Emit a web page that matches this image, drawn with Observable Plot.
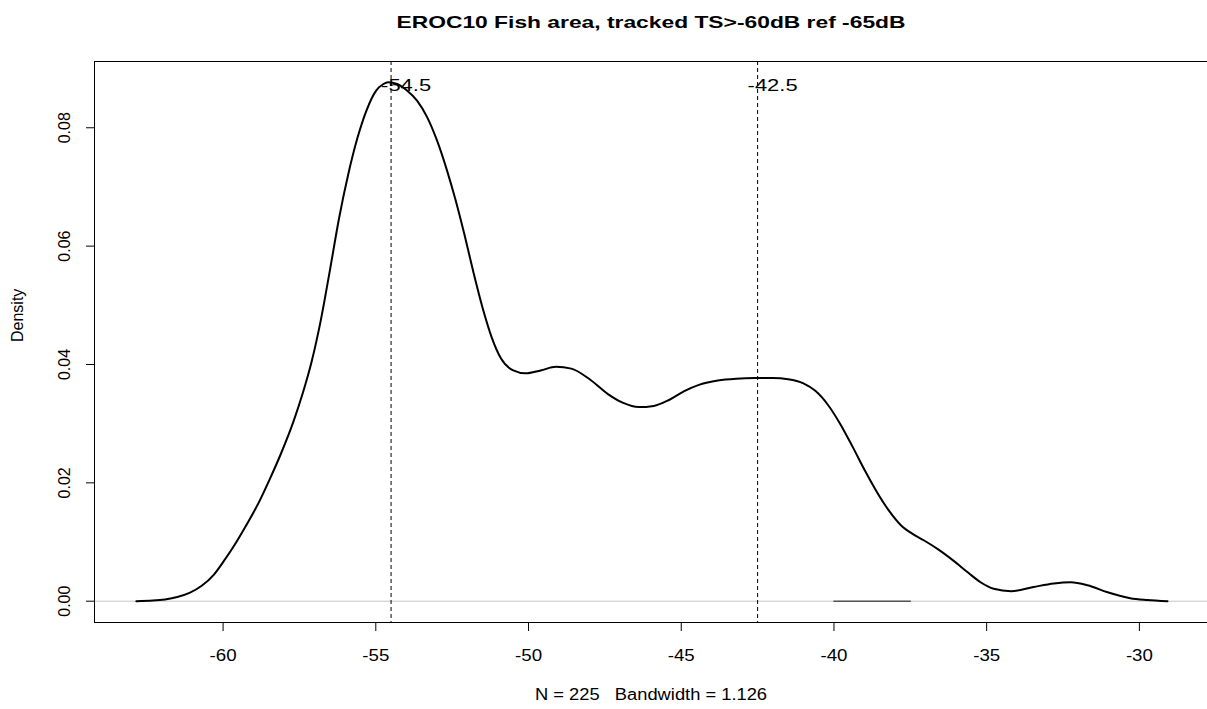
<!DOCTYPE html>
<html><head><meta charset="utf-8">
<script src="https://cdn.jsdelivr.net/npm/d3@7"></script>
<script src="https://cdn.jsdelivr.net/npm/@observablehq/plot@0.6"></script>
<style>
body{margin:0;background:#fff}
svg{display:block}
text{white-space:pre}
</style>
</head><body><div id="chart"></div>
<script>
const titleText = "EROC10 Fish area, tracked TS>-60dB ref -65dB";
const captionText = "N = 225   Bandwidth = 1.126";
const yLabelText = "Density";
const xTicks = [-60, -55, -50, -45, -40, -35, -30];
const yTicks = [0, 0.02, 0.04, 0.06, 0.08];
const modes = [-54.5, -42.5];
const modeLabels = ["-54.5", "-42.5"];
const segX = [-40, -37.5];
const segY = [0, 0];
const ts = [-62.84,-62.3,-61.9,-61.5,-61.1,-60.7,-60.3,-60.0,-59.6,-59.2,-58.8,-58.5,-58.1,-57.7,-57.4,-57.1,-56.8,-56.5,-56.2,-55.9,-55.6,-55.3,-55.0,-54.75,-54.6,-54.3,-53.98,-53.65,-53.32,-53.0,-52.67,-52.4,-52.1,-51.8,-51.5,-51.2,-50.9,-50.5,-50.1,-49.6,-49.1,-48.6,-48.0,-47.4,-46.9,-46.4,-45.9,-45.4,-44.9,-44.4,-43.8,-43.2,-42.6,-42.0,-41.5,-41.0,-40.6,-40.2,-39.8,-39.4,-39.0,-38.6,-38.2,-37.8,-37.4,-37.06,-36.6,-36.1,-35.6,-35.2,-34.77,-34.2,-33.47,-32.8,-32.25,-31.7,-31.04,-30.3,-29.75,-29.08];
const density = [0.0000,0.0001,0.0003,0.0007,0.0014,0.0026,0.0045,0.0066,0.0097,0.0132,0.0170,0.0203,0.0250,0.0303,0.0350,0.0405,0.0475,0.0560,0.0648,0.0722,0.0783,0.0830,0.0862,0.0874,0.0877,0.0874,0.0863,0.0846,0.0818,0.0779,0.0728,0.0680,0.0620,0.0555,0.0495,0.0445,0.0410,0.0390,0.0385,0.0390,0.0396,0.0393,0.0375,0.0350,0.0335,0.0328,0.0330,0.0340,0.0355,0.0366,0.0373,0.0376,0.0377,0.0377,0.0375,0.0368,0.0355,0.0332,0.0300,0.0262,0.0222,0.0185,0.0153,0.0128,0.0113,0.0103,0.0088,0.0069,0.0048,0.0032,0.0021,0.0017,0.0024,0.0030,0.0032,0.0027,0.0015,0.0005,0.0002,0.0000];

const curveData = ts.map((x, i) => ({x, y: density[i]}));
const segData = segX.map((x, i) => ({x, y: segY[i]}));
const modeData = modes.map((x, i) => ({x, label: modeLabels[i]}));
const xDomain = [-64.21, -27.77];
const yDomain = [-0.0036, 0.0912];
const font = "'Liberation Sans', Arial, sans-serif";

const chart = Plot.plot({
  width: 1207, height: 709,
  marginLeft: 94, marginRight: 0, marginTop: 61, marginBottom: 87,
  x: {domain: xDomain},
  y: {domain: yDomain},
  style: {fontFamily: font, fontSize: "16px", color: "#000", background: "#fff"},
  marks: [
    Plot.ruleY([0], {stroke: "#c4c4c4", strokeWidth: 1}),
    Plot.line(segData, {x: "x", y: "y", stroke: "#555", strokeWidth: 1.5}),
    Plot.ruleX(modes, {stroke: "#000", strokeWidth: 1, strokeDasharray: "4,3"}),
    Plot.line(curveData, {x: "x", y: "y", stroke: "#000", strokeWidth: 2, curve: "monotone-x"}),
    Plot.text(modeData, {x: "x", y: 0.0871, text: "label", dx: 15, fontSize: 16, fill: "#000"}),
    Plot.ruleX([xDomain[0]], {stroke: "#000", strokeWidth: 1}),
    Plot.ruleY([yDomain[0], yDomain[1]], {stroke: "#000", strokeWidth: 1}),
    Plot.axisX(xTicks, {tickSize: 9, tickPadding: 18, fontSize: 16, label: null, tickFormat: d => String(d)}),
    Plot.axisY(yTicks, {tickSize: 8, tickPadding: 17, tickRotate: -90, fontSize: 16, label: null, tickFormat: d3.format(".2f")}),
    Plot.text([titleText], {frameAnchor: "top", dy: -39, lineAnchor: "middle", fontWeight: "bold", fontSize: 17, fill: "#000"}),
    Plot.text([yLabelText], {frameAnchor: "left", dx: -77, rotate: -90, lineAnchor: "middle", fontSize: 16, fill: "#000"}),
    Plot.text([captionText], {frameAnchor: "bottom", dy: 72, lineAnchor: "middle", fontSize: 16, fill: "#000"})
  ]
});
document.getElementById("chart").appendChild(chart);

// stretch horizontal text widths to the reference's wide glyphs
const targets = new Map([[titleText, 509], [captionText, 232], ["-54.5", 50], ["-42.5", 50]]);
chart.querySelectorAll("text").forEach(t => {
  const s = t.textContent;
  let w = targets.get(s);
  if (w == null && /^-\d\d$/.test(s)) w = 27;
  if (w != null) {
    t.setAttribute("textLength", w);
    t.setAttribute("lengthAdjust", "spacingAndGlyphs");
  }
});
</script>
</body></html>
